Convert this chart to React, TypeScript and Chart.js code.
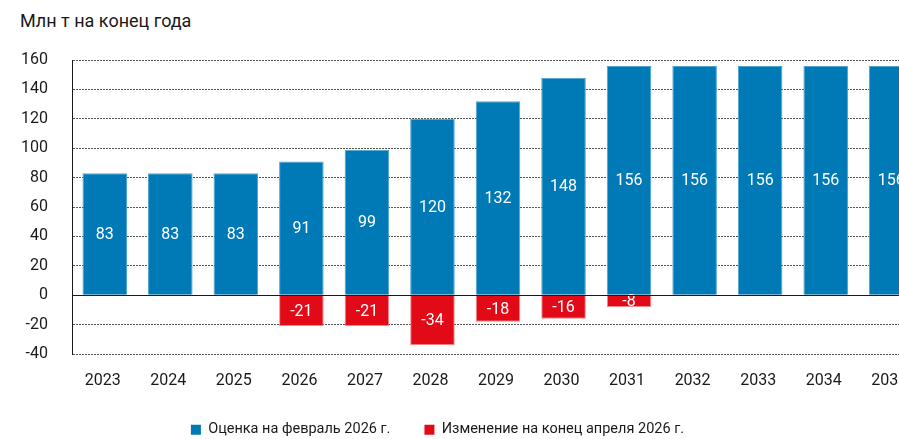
import React, { useEffect, useRef } from 'react';
import { Chart, registerables } from 'chart.js';

Chart.register(...registerables);

const years = ['2023', '2024', '2025', '2026', '2027', '2028', '2029', '2030', '2031', '2032', '2033', '2034', '2035'];
const febEstimate = [83, 83, 83, 91, 99, 120, 132, 148, 156, 156, 156, 156, 156];
const aprilChange = [null, null, null, -21, -21, -34, -18, -16, -8, null, null, null, null];
const seriesNames = ['Оценка на февраль 2026 г.', 'Изменение на конец апреля 2026 г.'];
const yMin = -40;
const yMax = 160;
const yStep = 20;
const titleText = 'Млн т на конец года';

const FONT = 'Roboto, "Noto Sans", sans-serif';
const TEXT = '#1a1a1a';
const BLUE = '#007ab7';
const BLUE_EDGE = '#4fa3d2';
const RED = '#e30a17';
const RED_EDGE = '#f08a90';

const LEGEND_FONT = 14.5;
const LEGEND_PAD = 34;
const BOTTOM_SPACE = 93; // from plot bottom to canvas bottom

const barLabels = {
  id: 'barLabels',
  afterDatasetsDraw(chart: any) {
    const ctx = chart.ctx;
    ctx.save();
    ctx.font = `16px ${FONT}`;
    ctx.fillStyle = '#ffffff';
    ctx.textAlign = 'center';
    ctx.textBaseline = 'middle';
    chart.data.datasets.forEach((ds: any, di: number) => {
      const meta = chart.getDatasetMeta(di);
      meta.data.forEach((el: any, i: number) => {
        const v = ds.data[i];
        if (v === null || v === undefined) return;
        const p = el.getProps(['x', 'y', 'base'], true);
        ctx.fillText(String(v), p.x, (p.y + p.base) / 2 + 1);
      });
    });
    const ys = chart.scales.y;
    const y0 = Math.round(ys.getPixelForValue(0)) + 0.5;
    const area = chart.chartArea;
    ctx.strokeStyle = TEXT;
    ctx.lineWidth = 1;
    ctx.setLineDash([]);
    ctx.beginPath();
    ctx.moveTo(area.left, y0);
    ctx.lineTo(area.right, y0);
    ctx.stroke();
    ctx.restore();
  },
};

export default function App() {
  const ref = useRef<HTMLCanvasElement | null>(null);

  useEffect(() => {
    if (!ref.current) return;
    const chart = new Chart(ref.current, {
      type: 'bar',
      data: {
        labels: years,
        datasets: [
          {
            label: seriesNames[0],
            data: febEstimate,
            backgroundColor: BLUE,
            borderColor: BLUE_EDGE,
            borderWidth: 1,
            barPercentage: 0.68,
            categoryPercentage: 1,
          },
          {
            label: seriesNames[1],
            data: aprilChange as any,
            backgroundColor: RED,
            borderColor: RED_EDGE,
            borderWidth: 1,
            barPercentage: 0.68,
            categoryPercentage: 1,
          },
        ],
      },
      options: {
        animation: false,
        responsive: false,
        maintainAspectRatio: false,
        layout: { padding: { left: -49, top: 60, right: 0, bottom: 0 } },
        scales: {
          x: {
            stacked: true,
            grid: { display: false, drawTicks: false },
            border: { display: false },
            ticks: {
              font: { family: FONT, size: 16 },
              color: TEXT,
              mirror: true,
              padding: -37,
              labelOffset: -2,
            },
            afterFit: (s: any) => { s.height = BOTTOM_SPACE - (LEGEND_FONT + LEGEND_PAD + 10); },
          },
          y: {
            stacked: true,
            min: yMin,
            max: yMax,
            ticks: { stepSize: yStep, font: { family: FONT, size: 16 }, color: TEXT, padding: 24 },
            grid: { color: '#555555', lineWidth: 1, drawTicks: false },
            border: { display: true, color: TEXT, width: 1, dash: [2, 1] },
            afterFit: (s: any) => { s.width = 121; },
          },
        },
        plugins: {
          title: { display: false },
          tooltip: { enabled: false },
          legend: {
            display: true,
            position: 'bottom',
            labels: {
              boxWidth: 10,
              boxHeight: 10,
              padding: LEGEND_PAD,
              color: TEXT,
              font: { family: FONT, size: LEGEND_FONT },
              generateLabels: (c: any) =>
                (Chart.defaults.plugins.legend.labels.generateLabels as any)(c).map((l: any) => ({
                  ...l,
                  lineWidth: 0,
                  strokeStyle: 'rgba(0,0,0,0)',
                })),
            },
          },
        },
      },
      plugins: [barLabels],
    } as any);
    return () => chart.destroy();
  }, []);

  return (
    <div style={{ position: 'fixed', left: 0, top: 0, width: 899, height: 439, overflow: 'hidden', background: '#fff' }}>
      <div
        style={{
          position: 'absolute',
          left: 20,
          top: 12,
          font: `18px ${FONT}`,
          lineHeight: '18px',
          color: TEXT,
          whiteSpace: 'nowrap',
        }}
      >
        {titleText}
      </div>
      <canvas
        ref={ref}
        width={924}
        height={447}
        style={{ position: 'absolute', left: 0, top: 0, width: 924, height: 447 }}
      />
    </div>
  );
}
